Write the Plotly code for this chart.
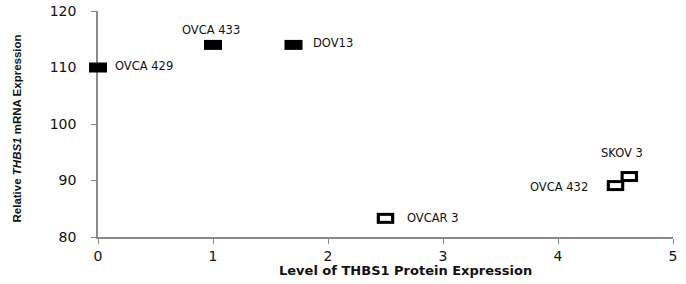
import plotly.graph_objects as go

# ---- data ----
cell_lines = ["OVCA 429", "OVCA 433", "DOV13", "OVCAR 3", "OVCA 432", "SKOV 3"]
protein_level = [0.0, 1.0, 1.7, 2.5, 4.5, 4.62]
mrna_level = [110.0, 114.0, 114.0, 83.3, 89.1, 90.7]
hollow = [False, False, False, True, True, True]

x_ticks = [0, 1, 2, 3, 4, 5]
y_ticks = [80, 90, 100, 110, 120]

# ---- label placement (style) ----
label_anchor = ["left", "center", "left", "left", "right", "center"]
label_dx = [15, -2, 17, 19, -26, -7]
label_dy = [2, 15, 2, 0, -1, 24]

W, H = 686, 284
L, R, T, B = 98, 13, 11, 47

fig = go.Figure()

fx = [x for x, h in zip(protein_level, hollow) if not h]
fy = [y for y, h in zip(mrna_level, hollow) if not h]
hx = [x for x, h in zip(protein_level, hollow) if h]
hy = [y for y, h in zip(mrna_level, hollow) if h]

# filled rectangles
fig.add_trace(go.Scatter(
    x=fx, y=fy, mode="markers", showlegend=False, cliponaxis=False,
    marker=dict(symbol="line-ew", size=12.9, color="black",
                line=dict(color="black", width=10))))
# hollow rectangles: black outer then white inner
fig.add_trace(go.Scatter(
    x=hx, y=hy, mode="markers", showlegend=False, cliponaxis=False,
    marker=dict(symbol="line-ew", size=12.5, color="black",
                line=dict(color="black", width=11))))
fig.add_trace(go.Scatter(
    x=hx, y=hy, mode="markers", showlegend=False, cliponaxis=False,
    marker=dict(symbol="line-ew", size=8.0, color="white",
                line=dict(color="white", width=5))))

for name, x, y, anc, dx, dy in zip(cell_lines, protein_level, mrna_level,
                                   label_anchor, label_dx, label_dy):
    fig.add_annotation(x=x, y=y, xref="x", yref="y", text=name,
                       showarrow=False, xanchor=anc, yanchor="middle",
                       xshift=dx, yshift=dy,
                       font=dict(family="DejaVu Sans", size=11.5, color="#111"))

pw = W - L - R
ph = H - T - B
# axis titles
fig.add_annotation(x=(405.5 - L) / pw, y=(H - B - 270) / ph, xref="paper", yref="paper",
                   text="<b>Level of THBS1 Protein Expression</b>", showarrow=False,
                   xanchor="center", yanchor="middle",
                   font=dict(family="DejaVu Sans", size=13, color="#111"))
fig.add_annotation(x=(16 - L) / pw, y=(H - B - 128.5) / ph, xref="paper", yref="paper",
                   text="<b>Relative <i>THBS1</i> mRNA Expression</b>", showarrow=False,
                   textangle=-90, xanchor="center", yanchor="middle",
                   font=dict(family="Liberation Sans", size=11.5, color="#111"))

axis_common = dict(showgrid=False, zeroline=False, showline=True, automargin=False,
                   layer="below traces",
                   linecolor="#8a8a8a", linewidth=1.5,
                   ticks="outside", ticklen=5, tickwidth=1.2, tickcolor="#8a8a8a",
                   tickfont=dict(family="DejaVu Sans", size=14, color="#111"))

fig.update_xaxes(range=[0, 5], tickvals=x_ticks, ticklabelstandoff=0, **axis_common)
fig.update_yaxes(range=[80, 120], tickvals=y_ticks, ticklabelstandoff=12, **axis_common)

fig.update_layout(width=W, height=H, margin=dict(l=L, r=R, t=T, b=B),
                  plot_bgcolor="white", paper_bgcolor="white")

# remove the browser's default 8px body margin so the figure fills the window
fig.write_html("out.html", config={"displayModeBar": False},
               post_script="document.body.style.margin='0';document.body.style.overflow='hidden';")
